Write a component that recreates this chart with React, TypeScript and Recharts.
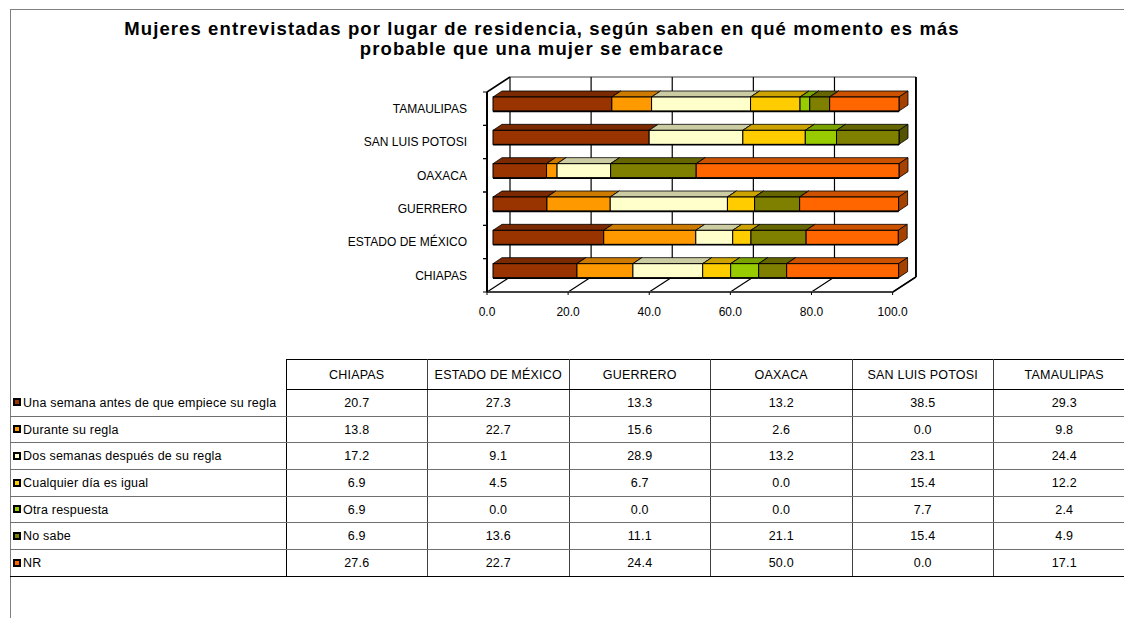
import React from 'react';
import { BarChart, Bar, XAxis, YAxis, CartesianGrid } from 'recharts';

const TITLE_1 = 'Mujeres entrevistadas por lugar de residencia, según saben en qué momento es más';
const TITLE_2 = 'probable que una mujer se embarace';

const STATES = ['CHIAPAS', 'ESTADO DE MÉXICO', 'GUERRERO', 'OAXACA', 'SAN LUIS POTOSI', 'TAMAULIPAS'];

const SERIES_NAMES = [
  'Una semana antes de que empiece su regla',
  'Durante su regla',
  'Dos semanas después de su regla',
  'Cualquier día es igual',
  'Otra respuesta',
  'No sabe',
  'NR',
];
const SERIES_COLORS = ['#993300', '#FF9900', '#FFFFCC', '#FFCC00', '#99CC00', '#808000', '#FF6600'];

// values per state, same order as STATES
const semanaAntes = [20.7, 27.3, 13.3, 13.2, 38.5, 29.3];
const duranteRegla = [13.8, 22.7, 15.6, 2.6, 0.0, 9.8];
const dosSemanas = [17.2, 9.1, 28.9, 13.2, 23.1, 24.4];
const cualquierDia = [6.9, 4.5, 6.7, 0.0, 15.4, 12.2];
const otraRespuesta = [6.9, 0.0, 0.0, 0.0, 7.7, 2.4];
const noSabe = [6.9, 13.6, 11.1, 21.1, 15.4, 4.9];
const noResponde = [27.6, 22.7, 24.4, 50.0, 0.0, 17.1];

const SERIES_VALUES = [semanaAntes, duranteRegla, dosSemanas, cualquierDia, otraRespuesta, noSabe, noResponde];

const X_TICKS = [0, 20, 40, 60, 80, 100];

const chartData = STATES.map((name, i) => {
  const row: Record<string, any> = { name };
  SERIES_VALUES.forEach((vals, s) => {
    row[`s${s}`] = vals[i];
  });
  return row;
});

// layout of the 3d box
const CHART_W = 1124;
const CHART_H = 340;
const MARGIN = { top: 92, right: 231, bottom: 18, left: 287 };
const Y_AXIS_W = 200;
const X_AXIS_H = 30;
const PLOT_LEFT = MARGIN.left + Y_AXIS_W;
const PLOT_RIGHT = CHART_W - MARGIN.right;
const PLOT_TOP = MARGIN.top;
const PLOT_BOTTOM = CHART_H - MARGIN.bottom - X_AXIS_H;
const DEPTH_X = 23;
const DEPTH_Y = 15;
const BAR_DX = 9;
const BAR_DY = 6;
const BAR_SHIFT_X = 6;
const BAR_SHIFT_Y = 5;

const FONT = '"Liberation Sans", Arial, sans-serif';

function shade(hex: string, f: number) {
  const n = parseInt(hex.slice(1), 16);
  const r = Math.round(((n >> 16) & 255) * f);
  const g = Math.round(((n >> 8) & 255) * f);
  const b = Math.round((n & 255) * f);
  return `rgb(${r},${g},${b})`;
}

const Bar3D = (props: any) => {
  const { x, y, width, height, fill } = props;
  if (!width || width <= 0.01) return <g />;
  const fx = x + BAR_SHIFT_X;
  const fy = y - BAR_SHIFT_Y;
  const r = fx + width;
  return (
    <g>
      <polygon
        points={`${fx},${fy} ${fx + BAR_DX},${fy - BAR_DY} ${r + BAR_DX},${fy - BAR_DY} ${r},${fy}`}
        fill={shade(fill, 0.8)}
        stroke="#000"
        strokeWidth={0.8}
      />
      <polygon
        points={`${r},${fy} ${r + BAR_DX},${fy - BAR_DY} ${r + BAR_DX},${fy + height - BAR_DY} ${r},${fy + height}`}
        fill={shade(fill, 0.65)}
        stroke="#000"
        strokeWidth={0.8}
      />
      <rect x={fx} y={fy} width={width} height={height} fill={fill} stroke="#000" strokeWidth={1} />
      <line x1={fx} y1={fy + height + 0.5} x2={r} y2={fy + height + 0.5} stroke="#000" strokeWidth={1.5} />
    </g>
  );
};

const gridLine = (p: any) => {
  const { x1, y1, y2, index } = p;
  return (
    <g key={`grid-${index}-${x1}`}>
      <line x1={x1 + DEPTH_X} y1={y1 - DEPTH_Y} x2={x1 + DEPTH_X} y2={y2 - DEPTH_Y} stroke="#000" strokeWidth={1.2} />
      <line x1={x1} y1={y2} x2={x1 + DEPTH_X} y2={y2 - DEPTH_Y} stroke="#000" strokeWidth={1.2} />
    </g>
  );
};

const YTick = (props: any) => {
  const { y, payload } = props;
  const band = (PLOT_BOTTOM - PLOT_TOP) / STATES.length;
  return (
    <g>
      <line x1={PLOT_LEFT - 4} y1={y - band / 2} x2={PLOT_LEFT} y2={y - band / 2} stroke="#000" />
      <line x1={PLOT_LEFT - 4} y1={y + band / 2} x2={PLOT_LEFT} y2={y + band / 2} stroke="#000" />
      <text x={PLOT_LEFT - 20} y={y} dy="0.35em" textAnchor="end" fontSize={12} fontFamily={FONT} fill="#000">
        {payload.value}
      </text>
    </g>
  );
};

function LegendKey({ color }: { color: string }) {
  return (
    <span
      style={{
        display: 'inline-block',
        width: 4,
        height: 4,
        border: '2px solid #000',
        background: color,
        marginRight: 2,
        verticalAlign: 'middle',
        position: 'relative',
        top: -1,
      }}
    />
  );
}

export default function App() {
  const cellText: React.CSSProperties = { fontSize: 12.5, letterSpacing: 0.2, fontFamily: FONT };
  return (
    <div style={{ position: 'absolute', left: 0, top: 0, width: 1124, height: 618, overflow: 'hidden', background: '#fff', fontFamily: FONT }}>
      {/* frame */}
      <div style={{ position: 'absolute', left: 10, top: 9, width: 1200, height: 700, borderLeft: '1px solid #808080', borderTop: '1px solid #808080' }} />

      {/* title */}
      <div style={{ position: 'absolute', left: 0, top: 19, width: 1084, textAlign: 'center', fontWeight: 'bold', fontSize: 18.5, letterSpacing: 1.1, lineHeight: '20px', color: '#000' }}>
        <div>{TITLE_1}</div>
        <div>{TITLE_2}</div>
      </div>

      {/* 3d box walls behind the chart */}
      <svg style={{ position: 'absolute', left: 0, top: 0 }} width={CHART_W} height={CHART_H}>
        <line x1={PLOT_LEFT} y1={PLOT_TOP} x2={PLOT_LEFT + DEPTH_X} y2={PLOT_TOP - DEPTH_Y} stroke="#000" strokeWidth={1.5} />
        <line x1={PLOT_LEFT + DEPTH_X} y1={PLOT_TOP - DEPTH_Y} x2={PLOT_RIGHT + DEPTH_X} y2={PLOT_TOP - DEPTH_Y} stroke="#808080" strokeWidth={1.5} />
        <line x1={PLOT_RIGHT + DEPTH_X} y1={PLOT_TOP - DEPTH_Y} x2={PLOT_RIGHT + DEPTH_X} y2={PLOT_BOTTOM - DEPTH_Y} stroke="#000" strokeWidth={1.5} />
        <line x1={PLOT_RIGHT} y1={PLOT_BOTTOM} x2={PLOT_RIGHT + DEPTH_X} y2={PLOT_BOTTOM - DEPTH_Y} stroke="#808080" strokeWidth={1.5} />
      </svg>

      <div style={{ position: 'absolute', left: 0, top: 0 }}>
        <BarChart width={CHART_W} height={CHART_H} data={chartData} layout="vertical" margin={MARGIN} barSize={14}>
          <CartesianGrid horizontal={false} vertical={gridLine} />
          <XAxis
            type="number"
            domain={[0, 100]}
            ticks={X_TICKS}
            interval={0}
            height={X_AXIS_H}
            tickFormatter={(v: number) => v.toFixed(1)}
            axisLine={{ stroke: '#404040', strokeWidth: 2 }}
            tickLine={{ stroke: '#000' }}
            tickSize={3}
            tickMargin={12}
            tick={{ fontSize: 12, fill: '#000', fontFamily: FONT }}
          />
          <YAxis
            type="category"
            dataKey="name"
            reversed
            width={Y_AXIS_W}
            interval={0}
            axisLine={{ stroke: '#000', strokeWidth: 2 }}
            tickLine={false}
            tick={<YTick />}
          />
          {SERIES_NAMES.map((n, s) => (
            <Bar
              key={n}
              dataKey={`s${s}`}
              name={n}
              stackId="a"
              fill={SERIES_COLORS[s]}
              shape={(p: any) => <Bar3D {...p} />}
              isAnimationActive={false}
            />
          ))}
        </BarChart>
      </div>

      {/* data table */}
      <table
        style={{
          position: 'absolute',
          left: 10,
          top: 359,
          borderCollapse: 'collapse',
          tableLayout: 'fixed',
          width: 276 + 141.5 * 6,
        }}
      >
        <colgroup>
          <col style={{ width: 276 }} />
          {STATES.map((s) => (
            <col key={s} style={{ width: 141.5 }} />
          ))}
        </colgroup>
        <tbody>
          <tr style={{ height: 30 }}>
            <td style={{ padding: 0, borderRight: '1px solid #000' }} />
            {STATES.map((s) => (
              <td
                key={s}
                style={{ ...cellText, padding: 0, textAlign: 'center', borderTop: '1px solid #000', borderRight: '1px solid #404040', borderBottom: '1px solid #000' }}
              >
                {s}
              </td>
            ))}
          </tr>
          {SERIES_NAMES.map((n, s) => (
            <tr key={n} style={{ height: 26.7 }}>
              <td style={{ ...cellText, padding: '0 0 0 3px', whiteSpace: 'nowrap', borderRight: '1px solid #000', borderBottom: `1px solid ${s === SERIES_NAMES.length - 1 ? '#000' : '#707070'}` }}>
                <LegendKey color={SERIES_COLORS[s]} />
                {n}
              </td>
              {SERIES_VALUES[s].map((v, i) => (
                <td
                  key={i}
                  style={{ ...cellText, padding: 0, textAlign: 'center', borderRight: '1px solid #404040', borderBottom: `1px solid ${s === SERIES_NAMES.length - 1 ? '#000' : '#707070'}` }}
                >
                  {v.toFixed(1)}
                </td>
              ))}
            </tr>
          ))}
        </tbody>
      </table>
    </div>
  );
}
